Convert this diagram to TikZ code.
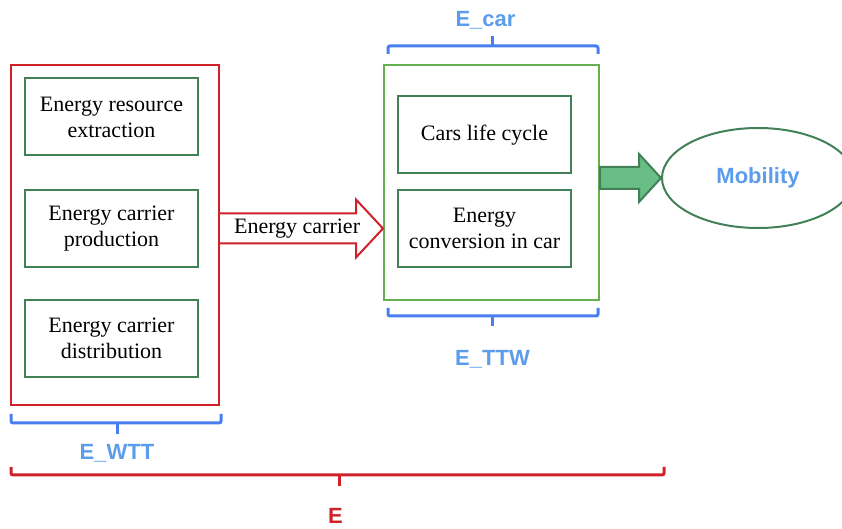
\documentclass[tikz,border=0pt]{standalone}
\usepackage{fontspec}
\setmainfont{Liberation Serif}
\setsansfont{Liberation Sans}
\usepackage{tikz}
\usetikzlibrary{positioning, calc, shapes.geometric}

\definecolor{ered}{RGB}{208,32,42}
\definecolor{egreen}{RGB}{100,176,80}
\definecolor{dgreen}{RGB}{66,128,88}
\definecolor{eblue}{RGB}{92,156,236}
\definecolor{bblue}{RGB}{72,126,240}
\definecolor{afill}{RGB}{104,190,134}

\begin{document}
\begin{tikzpicture}[
    x=0.5pt, y=-0.5pt,
    every node/.style={font=\fontsize{11}{13}\selectfont},
    stage/.style={draw=dgreen, line width=1pt, minimum width=86.5pt, minimum height=38.5pt, align=center, inner sep=0pt},
    frame/.style={line width=1pt, inner sep=0pt},
    bracket/.style={line width=1.5pt, rounded corners=1pt},
    lbl/.style={font=\sffamily\bfseries\fontsize{11}{12}\selectfont}
]
\useasboundingbox (0,0) rectangle (842,529);

% well to tank
\node[frame, draw=ered, minimum width=104pt, minimum height=170pt] (wtt) at (115,235) {};
\node[stage] (extr) at (111.5,117) {Energy resource\\extraction};
\node[stage] (prod) at (111.5,228.5) {Energy carrier\\production};
\node[stage] (dist) at (111.5,338.5) {Energy carrier\\distribution};

% car
\node[frame, draw=egreen, minimum width=107.5pt, minimum height=117.5pt] (car) at (491.5,182.5) {};
\node[stage] (life) at (484.5,135) {Cars life cycle};
\node[stage] (conv) at (484.5,228.5) {Energy\\conversion in car};

% mobility
\node[ellipse, draw=dgreen, line width=1pt, minimum width=96pt, minimum height=50pt, lbl, text=eblue] (mob) at (758,178) {Mobility};

% energy carrier arrow
\path (wtt.east |- prod.east) coordinate (ecs) (car.west |- conv.west) coordinate (ece);
\draw[ered, line width=1pt] ($(ecs)+(0,-15)$) -- ($(ece)+(-27,-15)$) -- ($(ece)+(-27,-29)$) -- (ece)
    -- ($(ece)+(-27,29)$) -- ($(ece)+(-27,15)$) -- ($(ecs)+(0,15)$);
\node[anchor=west] (eclbl) at ($(ecs)+(7,0)$) {Energy carrier};

% mobility arrow
\path (car.east |- mob.west) coordinate (mbs);
\draw[dgreen, fill=afill, line width=1pt] ($(mbs)+(0,-11)$) -- ($(mob.west)+(-22,-11)$) -- ($(mob.west)+(-22,-24)$) -- (mob.west)
    -- ($(mob.west)+(-22,24)$) -- ($(mob.west)+(-22,11)$) -- ($(mbs)+(0,11)$) -- cycle;

% brackets
\draw[bracket, bblue] ($(car.north west)+(5,-10)$) -- ++(0,-8) -- ($(car.north east)+(-2,-18)$) -- ++(0,8);
\draw[bracket, bblue] ($(car.north)+(1,-18)$) -- ++(0,-10);
\node[lbl, text=eblue] (ecar) at ($(car.north)+(-6,-44)$) {E\_car};

\draw[bracket, bblue] ($(car.south west)+(5,7)$) -- ++(0,8) -- ($(car.south east)+(-2,15)$) -- ++(0,-8);
\draw[bracket, bblue] ($(car.south)+(1,15)$) -- ++(0,10);
\node[lbl, text=eblue] (ettw) at ($(car.south)+(1,58)$) {E\_TTW};

\draw[bracket, bblue] ($(wtt.south west)+(1,8)$) -- ++(0,9) -- ($(wtt.south east)+(1,17)$) -- ++(0,-9);
\draw[bracket, bblue] ($(wtt.south)+(2,17)$) -- ++(0,11);
\node[lbl, text=eblue] (ewtt) at ($(wtt.south)+(2,47)$) {E\_WTT};

\coordinate (eend) at (wtt.south west -| mob.west);
\draw[bracket, ered] ($(wtt.south west)+(1,61)$) -- ++(0,8) -- ($(eend)+(3,69)$) -- ++(0,-8);
\draw[bracket, ered] ($(wtt.south west)!0.5!(eend)+(4,69)$) -- ++(0,11);
\node[lbl, text=ered] (etot) at ($(wtt.south west)!0.5!(eend)+(0,110)$) {E};

\end{tikzpicture}
\end{document}
